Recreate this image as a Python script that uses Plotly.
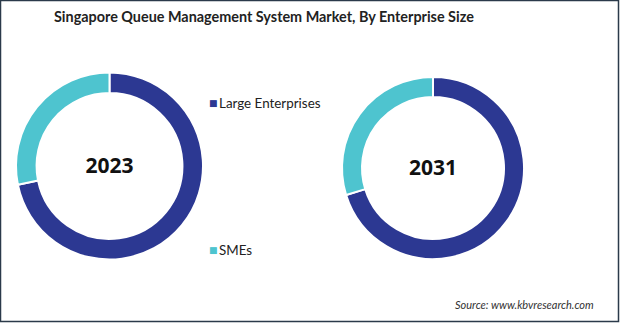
import plotly.graph_objects as go

W, H = 622, 323

title_text = "Singapore Queue Management System Market, By Enterprise Size"
segments = ["Large Enterprises", "SMEs"]
years = ["2023", "2031"]
share_2023 = [71.8, 28.2]
share_2031 = [70.2, 29.8]
colors = ["#2C3892", "#4EC4CF"]
source_text = "Source: www.kbvresearch.com"

def px_x(x):
    return x / W

def px_y(y):
    return 1 - y / H

fig = go.Figure()

domains = [
    dict(x=[px_x(16), px_x(203)], y=[px_y(259.5), px_y(72.5)]),
    dict(x=[px_x(342), px_x(524)], y=[px_y(259), px_y(77)]),
]

for yr, vals, dom in zip(years, [share_2023, share_2031], domains):
    fig.add_trace(go.Pie(
        labels=segments,
        values=vals,
        hole=0.78,
        sort=False,
        direction="clockwise",
        rotation=0,
        textinfo="none",
        marker=dict(colors=colors, line=dict(color="white", width=2)),
        domain=dom,
        showlegend=False,
        title=dict(text=f"<b>{yr}</b>", position="middle center",
                   font=dict(family="Open Sans", size=21, color="#111111")),
        name=yr,
    ))

annotations = [
    dict(text=f"<b>{title_text}</b>", x=px_x(264), y=px_y(17), xref="paper", yref="paper",
         xanchor="center", yanchor="middle", showarrow=False,
         font=dict(family="Lato", size=14.4, color="#222222")),
    dict(text=f"<i>{source_text}</i>", x=px_x(596), y=px_y(304), xref="paper", yref="paper",
         xanchor="right", yanchor="middle", showarrow=False,
         font=dict(family="Lato", size=11, color="#333333")),
]

legend_y = [103, 250]
for seg, col, ly in zip(segments, colors, legend_y):
    annotations.append(dict(text="■", x=px_x(207), y=px_y(ly), xref="paper", yref="paper",
                            xanchor="left", yanchor="middle", showarrow=False,
                            font=dict(family="DejaVu Sans", size=9, color=col)))
    annotations.append(dict(text=seg, x=px_x(217), y=px_y(ly), xref="paper", yref="paper",
                            xanchor="left", yanchor="middle", showarrow=False,
                            font=dict(family="Lato", size=13.4, color="#222222")))

fig.update_layout(
    width=W, height=H,
    margin=dict(l=0, r=0, t=0, b=0),
    paper_bgcolor="white",
    plot_bgcolor="white",
    annotations=annotations,
    shapes=[dict(type="rect", xref="paper", yref="paper",
                 x0=px_x(0.5), x1=px_x(618.5), y0=px_y(321.5), y1=px_y(0.5),
                 line=dict(color="#2B3A4A", width=1.5))],
)

fig.write_html("out.html")
